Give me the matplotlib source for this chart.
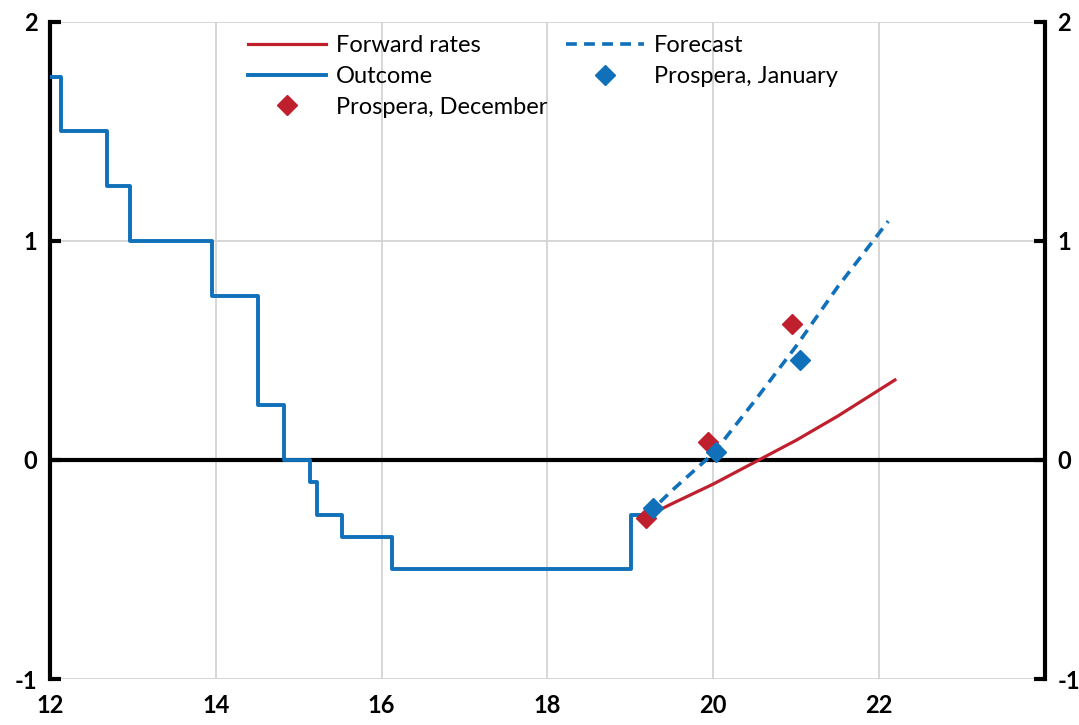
import numpy as np
import matplotlib
matplotlib.use('Agg')
import matplotlib.pyplot as plt

plt.rcParams['font.family'] = ['Lato', 'DejaVu Sans']

# repo rate outcome (step changes), x in years (12 = 2012)
outcome_x = [12.0, 12.13, 12.69, 12.96, 13.96, 14.51, 14.82, 15.13, 15.22, 15.52, 16.13, 19.01, 19.12]
outcome_y = [1.75, 1.5, 1.25, 1.0, 0.75, 0.25, 0.0, -0.1, -0.25, -0.35, -0.5, -0.25, -0.25]

forward_x = [19.18, 19.5, 20.0, 20.55, 21.0, 21.5, 22.19]
forward_y = [-0.26, -0.2, -0.11, 0.0, 0.09, 0.2, 0.365]

forecast_x = [19.2, 19.5, 20.0, 20.5, 21.0, 21.5, 22.11]
forecast_y = [-0.25, -0.14, 0.03, 0.27, 0.52, 0.79, 1.09]

dec_x = [19.19, 19.94, 20.95]
dec_y = [-0.265, 0.08, 0.62]

jan_x = [19.27, 20.03, 21.04]
jan_y = [-0.22, 0.035, 0.455]

blue = '#1170BA'
red = '#C0202E'

fig = plt.figure(figsize=(10.79, 7.25), dpi=100)
ax = fig.add_axes([0.0463, 0.0634, 0.9222, 0.9066])

ax.set_xlim(12, 24)
ax.set_ylim(-1, 2)

# grid
for gx in [14, 16, 18, 20, 22]:
    ax.axvline(gx, color='#D3D3D3', lw=1.3, zorder=0)
for gy in [1, 2, -1]:
    ax.axhline(gy, color='#D3D3D3', lw=1.3, zorder=0)
ax.axhline(0, color='black', lw=3, zorder=1)

ax.plot(forward_x, forward_y, color=red, lw=2.3, label='Forward rates', zorder=3)
ax.plot(outcome_x, outcome_y, color=blue, lw=2.8, drawstyle='steps-post', label='Outcome', zorder=4)
ax.plot(dec_x, dec_y, 'D', color=red, ms=10, label='Prospera, December', zorder=5)
ax.plot(forecast_x, forecast_y, color=blue, lw=2.6, ls=(0, (3, 2)), label='Forecast', zorder=3)
ax.plot(jan_x, jan_y, 'D', color=blue, ms=10, label='Prospera, January', zorder=6)

for s in ['top', 'bottom']:
    ax.spines[s].set_visible(False)
for s in ['left', 'right']:
    ax.spines[s].set_linewidth(3)
    ax.spines[s].set_color('black')

ax.set_yticks([-1, 0, 1, 2])
ax.set_yticklabels(['-1', '0', '1', '2'])
ax.set_xticks([12, 14, 16, 18, 20, 22])
ax.tick_params(axis='y', direction='in', length=8, width=3, left=True, right=True,
               labelleft=True, labelright=True, labelsize=17, pad=9)
ax.tick_params(axis='x', length=0, labelsize=17, pad=11)
for lab in ax.get_xticklabels() + ax.get_yticklabels():
    lab.set_fontweight('bold')
for t in ax.yaxis.get_major_ticks():
    t.label2.set_fontweight('bold')

ax.legend(ncol=2, loc='upper left', bbox_to_anchor=(0.199, 0.98), frameon=False,
          fontsize=17, handlelength=3.3, handletextpad=0.42, columnspacing=0.8,
          labelspacing=0.42, borderpad=0, borderaxespad=0, numpoints=1)

fig.savefig('out.png', dpi=100)
